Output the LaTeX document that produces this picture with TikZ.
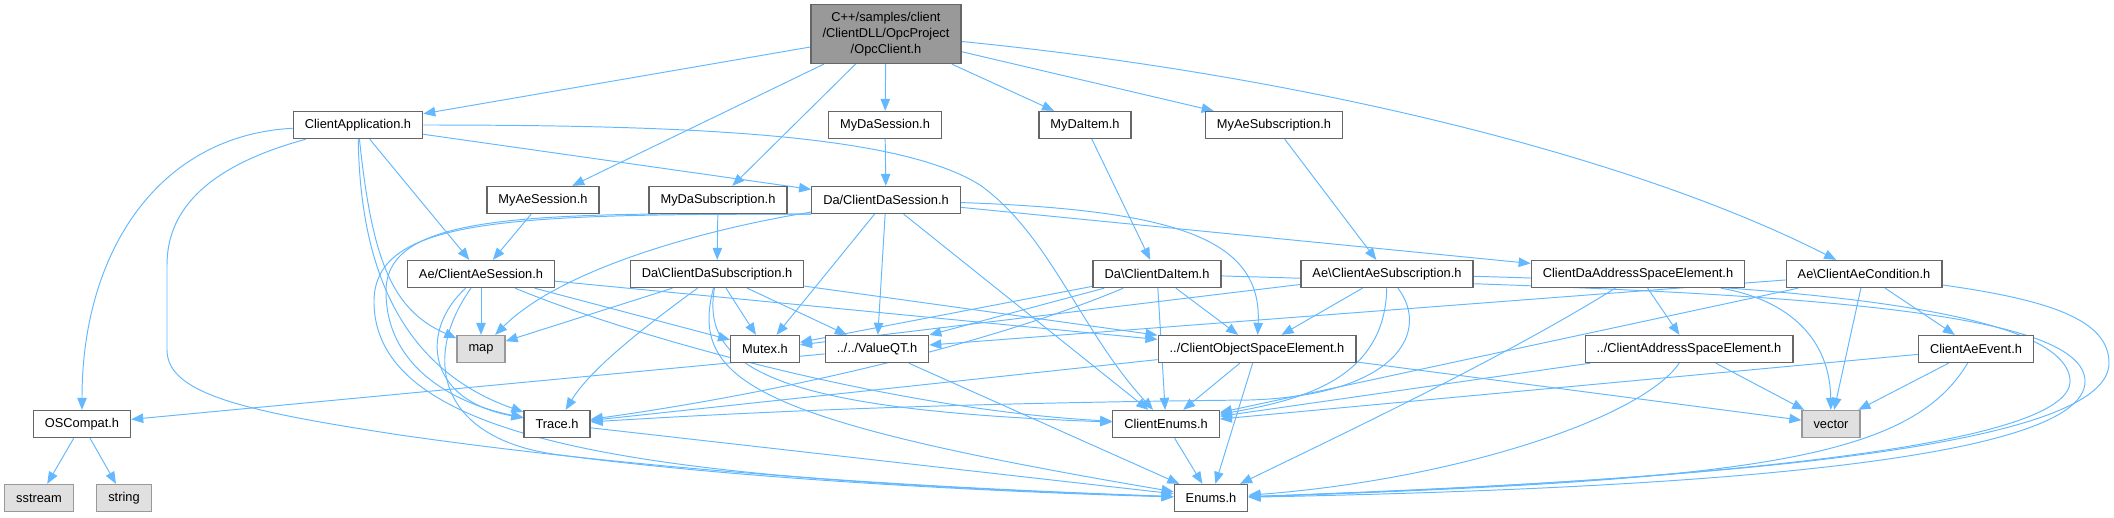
\documentclass[tikz,border=0pt]{standalone}
\usepackage{fontspec}
\setmainfont{Liberation Sans}
\usepackage{tikz}
\usetikzlibrary{arrows.meta, backgrounds}
\definecolor{depblue}{RGB}{99,184,255}
\definecolor{frame}{RGB}{102,102,102}
\definecolor{sysframe}{RGB}{153,153,153}
\definecolor{sysfill}{RGB}{224,224,224}
\definecolor{rootfill}{RGB}{153,153,153}

\begin{document}
\begin{tikzpicture}[x=0.2mm, y=-0.2mm, font=\fontsize{7.3}{9.1}\selectfont,
  hfile/.style={draw=frame, fill=white, line width=0.75pt, minimum height=5.4mm, inner xsep=2.3mm, inner ysep=0.4mm},
  sys/.style={hfile, draw=sysframe, fill=sysfill},
  dep/.style={-{Triangle[length=2.4mm, width=1.9mm]}, draw=depblue, line width=0.55pt}]
\useasboundingbox (0,0) rectangle (2114,517);
\node[hfile, fill=rootfill, minimum height=11.8mm, align=center] (opc) at (886,34) {C++/samples/client\\/ClientDLL/OpcProject\\/OpcClient.h};
\node[hfile] (capp) at (358,125) {ClientApplication.h};
\node[hfile] (mydases) at (885,125) {MyDaSession.h};
\node[hfile] (mydaitem) at (1085,125) {MyDaItem.h};
\node[hfile] (myaesub) at (1274,125) {MyAeSubscription.h};
\node[hfile] (myaeses) at (543,200) {MyAeSession.h};
\node[hfile] (mydasub) at (718,200) {MyDaSubscription.h};
\node[hfile] (dases) at (886,200) {Da/ClientDaSession.h};
\node[hfile] (aeses) at (481,274) {Ae/ClientAeSession.h};
\node[hfile] (dasub) at (717,274) {Da\textbackslash ClientDaSubscription.h};
\node[hfile] (daitem) at (1157,274) {Da\textbackslash ClientDaItem.h};
\node[hfile] (aesub) at (1387,274) {Ae\textbackslash ClientAeSubscription.h};
\node[hfile] (daase) at (1638,274) {ClientDaAddressSpaceElement.h};
\node[hfile] (aecond) at (1864,274) {Ae\textbackslash ClientAeCondition.h};
\node[sys] (map) at (481,349) {map};
\node[hfile] (mutex) at (765,349) {Mutex.h};
\node[hfile] (valueqt) at (877,349) {../../ValueQT.h};
\node[hfile] (cose) at (1257,349) {../ClientObjectSpaceElement.h};
\node[hfile] (case) at (1689,349) {../ClientAddressSpaceElement.h};
\node[hfile] (aeevent) at (1976,349) {ClientAeEvent.h};
\node[hfile] (oscompat) at (82,424) {OSCompat.h};
\node[hfile] (trace) at (557,424) {Trace.h};
\node[hfile] (cenums) at (1166,424) {ClientEnums.h};
\node[sys] (vector) at (1831,424) {vector};
\node[sys] (sstream) at (39,498) {sstream};
\node[sys] (string) at (124,498) {string};
\node[hfile] (enums) at (1211,498) {Enums.h};
\begin{scope}[on background layer]
\draw[dep] (opc) -- (capp);
\draw[dep] (opc) -- (myaeses);
\draw[dep] (opc) -- (mydasub);
\draw[dep] (opc) -- (mydases);
\draw[dep] (opc) -- (mydaitem);
\draw[dep] (opc) -- (myaesub);
\draw[dep] (opc) .. controls (1300,75) and (1630,155) .. (aecond);
\draw[dep] (capp) .. controls (160,135) and (82,250) .. (oscompat);
\draw[dep] (capp) .. controls (200,168) and (167,215) .. (167,265) -- (167,350) .. controls (167,395) and (250,412) .. (400,435) .. controls (700,478) and (1000,490) .. (enums);
\draw[dep] (capp) .. controls (360,250) and (390,365) .. (trace);
\draw[dep] (capp) .. controls (372,260) and (392,310) .. (map);
\draw[dep] (capp) -- (aeses);
\draw[dep] (capp) -- (dases);
\draw[dep] (capp) .. controls (700,125) and (900,135) .. (980,185) .. controls (1050,235) and (1080,330) .. (cenums);
\draw[dep] (myaeses) -- (aeses);
\draw[dep] (mydasub) -- (dasub);
\draw[dep] (mydases) -- (dases);
\draw[dep] (mydaitem) -- (daitem);
\draw[dep] (myaesub) -- (aesub);
\draw[dep] (dases) .. controls (700,230) and (560,270) .. (map);
\draw[dep] (dases.south west) .. controls (520,212) and (388,215) .. (386,290) .. controls (385,370) and (460,405) .. (trace);
\draw[dep] (dases.south west) .. controls (510,214) and (376,218) .. (374,300) .. controls (372,455) and (700,480) .. (enums);
\draw[dep] (dases) -- (mutex);
\draw[dep] (dases) -- (valueqt);
\draw[dep] (dases) -- (cenums);
\draw[dep] (dases) .. controls (1180,210) and (1262,240) .. (cose);
\draw[dep] (dases) -- (daase);
\draw[dep] (aeses) -- (map);
\draw[dep] (aeses) .. controls (420,330) and (425,400) .. (trace);
\draw[dep] (aeses) .. controls (420,360) and (440,440) .. (560,455) .. controls (750,480) and (1000,492) .. (enums);
\draw[dep] (aeses) -- (mutex);
\draw[dep] (aeses) .. controls (640,340) and (900,410) .. (cenums);
\draw[dep] (aeses) -- (cose);
\draw[dep] (dasub) -- (map);
\draw[dep] (dasub) -- (mutex);
\draw[dep] (dasub) -- (valueqt);
\draw[dep] (dasub) .. controls (640,330) and (590,370) .. (trace);
\draw[dep] (dasub) .. controls (690,380) and (750,420) .. (enums);
\draw[dep] (dasub) .. controls (700,370) and (780,410) .. (cenums);
\draw[dep] (dasub) -- (cose);
\draw[dep] (daitem) -- (mutex);
\draw[dep] (daitem) -- (valueqt);
\draw[dep] (daitem) .. controls (1000,340) and (800,390) .. (trace);
\draw[dep] (daitem) -- (cenums);
\draw[dep] (daitem) -- (cose);
\draw[dep] (daitem) .. controls (1700,290) and (2080,300) .. (2085,380) .. controls (2090,470) and (1600,490) .. (enums);
\draw[dep] (aesub) -- (mutex);
\draw[dep] (aesub) -- (cose);
\draw[dep] (aesub) .. controls (1385,380) and (1300,400) .. (cenums);
\draw[dep] (aesub) .. controls (1430,330) and (1400,395) .. (1250,400) .. controls (950,403) and (750,412) .. (trace);
\draw[dep] (aesub) .. controls (1800,285) and (2065,310) .. (2070,380) .. controls (2075,455) and (1600,485) .. (enums);
\draw[dep] (daase) -- (case);
\draw[dep] (daase) .. controls (1500,360) and (1330,440) .. (enums);
\draw[dep] (daase) .. controls (1790,300) and (1830,340) .. (vector);
\draw[dep] (aecond) -- (valueqt);
\draw[dep] (aecond) -- (cenums);
\draw[dep] (aecond) -- (vector);
\draw[dep] (aecond) -- (aeevent);
\draw[dep] (aecond) .. controls (2050,300) and (2109,320) .. (2109,363) .. controls (2109,450) and (1700,480) .. (enums);
\draw[dep] (case) -- (cenums);
\draw[dep] (case) -- (vector);
\draw[dep] (case) .. controls (1640,420) and (1450,480) .. (enums);
\draw[dep] (aeevent) -- (cenums);
\draw[dep] (aeevent) -- (vector);
\draw[dep] (aeevent) .. controls (1910,460) and (1750,480) .. (enums);
\draw[dep] (cose) -- (trace);
\draw[dep] (cose) -- (cenums);
\draw[dep] (cose) -- (enums);
\draw[dep] (cose) -- (vector);
\draw[dep] (valueqt) -- (oscompat);
\draw[dep] (valueqt) -- (enums);
\draw[dep] (trace) -- (enums);
\draw[dep] (cenums) -- (enums);
\draw[dep] (oscompat) -- (sstream);
\draw[dep] (oscompat) -- (string);
\end{scope}
\end{tikzpicture}
\end{document}
